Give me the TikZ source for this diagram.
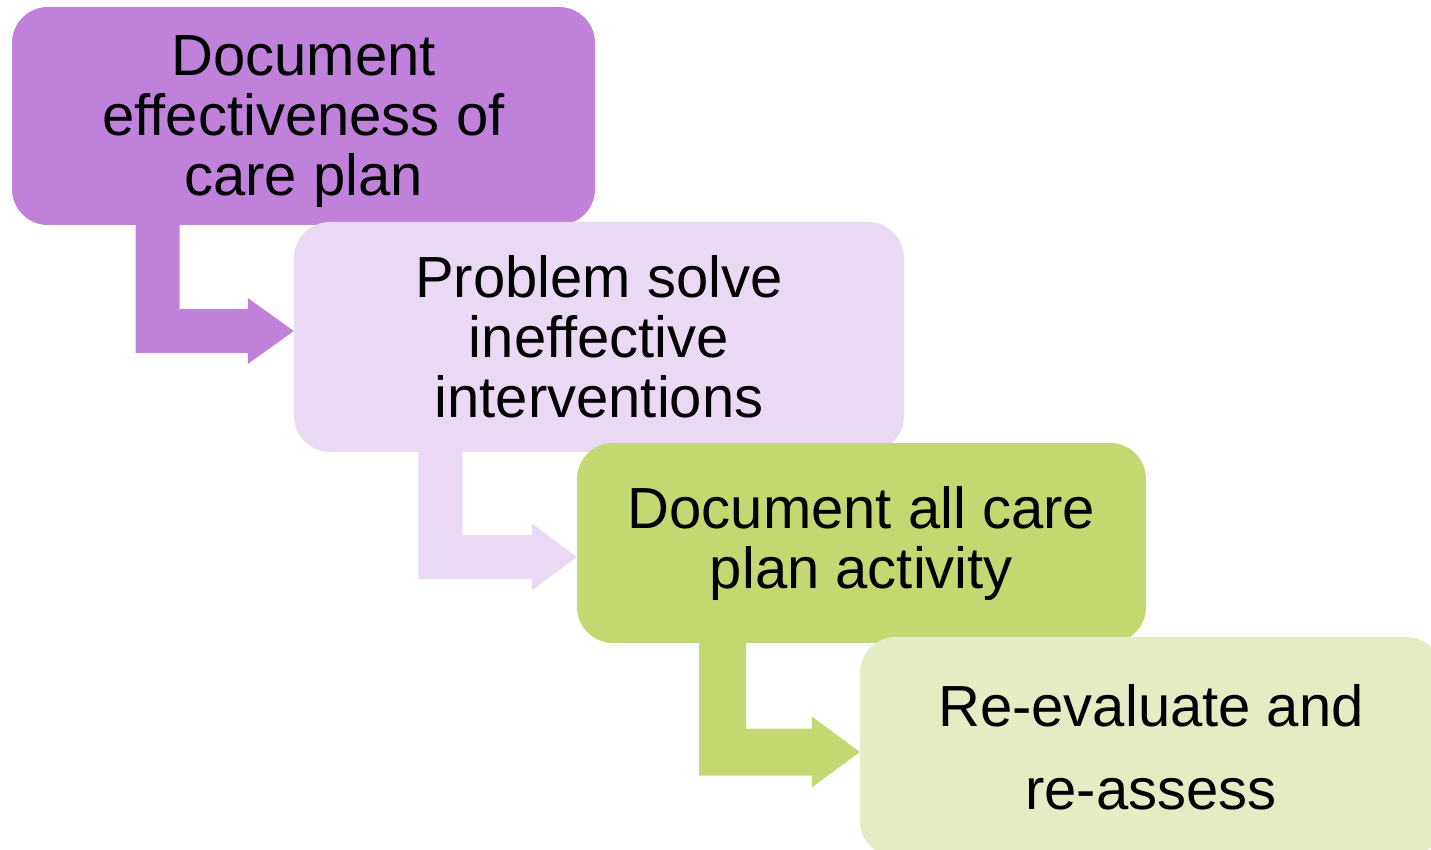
\documentclass[tikz,border=0pt]{standalone}
\usepackage{fontspec}
\setmainfont{Liberation Sans}
\usetikzlibrary{calc}
\definecolor{cA}{RGB}{192,129,218}
\definecolor{cB}{RGB}{234,217,242}
\definecolor{cC}{RGB}{196,216,114}
\definecolor{cD}{RGB}{228,236,196}
\tikzset{
  stepbox/.style={rounded corners=36pt, inner sep=0pt, align=center,
    font=\fontsize{58}{60}\selectfont, text=black},
}
% bent arrow: #1 colour, #2 start (bar centre on box bottom), #3 apex, #4 half bar width, #5 half head height, #6 head length
\newcommand\bentarrow[6]{%
  \fill[#1] let \p1=(#2), \p2=(#3) in
    (\x1-#4pt,\y1) -- (\x1+#4pt,\y1) -- (\x1+#4pt,\y2+#4pt) -- (\x2-#6pt,\y2+#4pt)
    -- (\x2-#6pt,\y2+#5pt) -- (\x2,\y2) -- (\x2-#6pt,\y2-#5pt) -- (\x2-#6pt,\y2-#4pt)
    -- (\x1-#4pt,\y2-#4pt) -- cycle;}
\begin{document}
\begin{tikzpicture}[x=1pt,y=-1pt]
\useasboundingbox (0,0) rectangle (1431,850);
\node[stepbox, fill=cA, minimum width=583pt, minimum height=218pt] (b1) at (303.5,116)
  {\rule{0pt}{52pt}Document\\effectiveness of\\care plan};
\coordinate (s1) at ($(b1.south west)!0.25!(b1.south east)$);
\node[stepbox, fill=cB, minimum width=610pt, minimum height=230pt] (b2) at (599,337)
  {Problem solve\\ineffective\\interventions};
\bentarrow{cA}{s1}{[yshift=6pt]b2.west}{22}{33}{46}
\coordinate (s2) at ($(b2.south west)!0.24!(b2.south east)$);
\node[stepbox, fill=cC, minimum width=569pt, minimum height=200pt] (b3) at (861.5,543)
  {Document all care\\plan activity};
\bentarrow{cB}{s2}{[yshift=-14pt]b3.west}{22}{33.5}{45}
\coordinate (s3) at ($(b3.south west)!0.256!(b3.south east)$);
\node[stepbox, fill=cD, minimum width=582pt, minimum height=220pt] (b4) at (1151,747)
  {Re-evaluate and\\[23pt]re-assess};
\bentarrow{cC}{s3}{[yshift=-5pt]b4.west}{23.5}{35.5}{48}
\end{tikzpicture}
\end{document}
